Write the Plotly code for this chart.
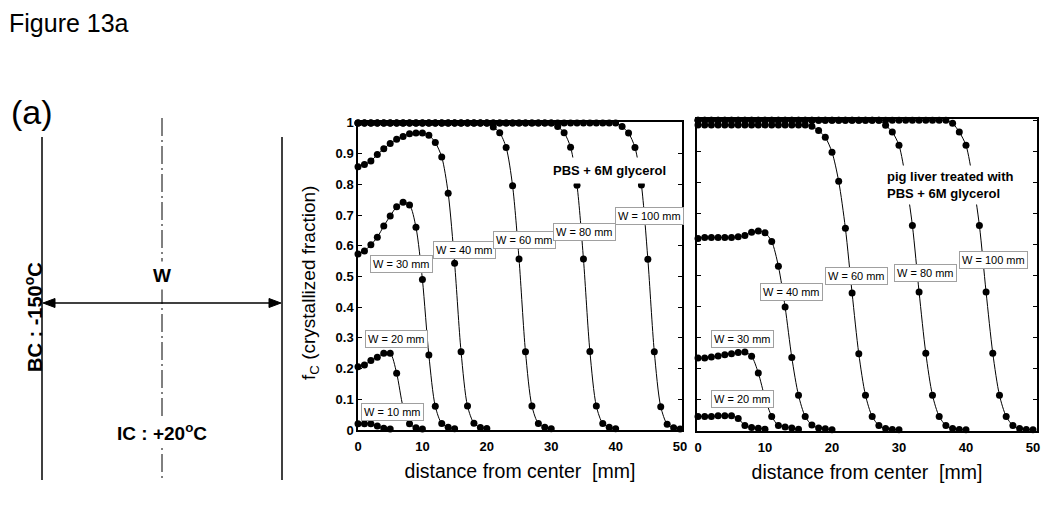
import plotly.graph_objects as go

# distance from the centre of the slab [mm], one node every 1 mm
distance_mm = [0, 1, 2, 3, 4, 5, 6, 7, 8, 9,
               10, 11, 12, 13, 14, 15, 16, 17, 18, 19,
               20, 21, 22, 23, 24, 25, 26, 27, 28, 29,
               30, 31, 32, 33, 34, 35, 36, 37, 38, 39,
               40, 41, 42, 43, 44, 45, 46, 47, 48, 49, 50]

# ---- PBS + 6M glycerol (left panel) ----
pbs_labels = ["W = 10 mm", "W = 20 mm", "W = 30 mm", "W = 40 mm",
              "W = 60 mm", "W = 80 mm", "W = 100 mm"]

fc_pbs_w10 = [0.020, 0.020, 0.020, 0.013, 0.006, 0.003]
fc_pbs_w20 = [0.206, 0.212, 0.226, 0.237, 0.250, 0.250, 0.185, 0.075, 0.020, 0.007,
              0.003]
fc_pbs_w30 = [0.573, 0.583, 0.603, 0.628, 0.664, 0.697, 0.727, 0.742, 0.733, 0.660,
              0.490, 0.244, 0.077, 0.021, 0.009, 0.004]
fc_pbs_w40 = [0.857, 0.865, 0.876, 0.897, 0.916, 0.933, 0.947, 0.956, 0.965, 0.967,
              0.967, 0.960, 0.936, 0.889, 0.771, 0.543, 0.255, 0.078, 0.022, 0.008,
              0.005]
fc_pbs_w60 = [1, 1, 1, 1, 1, 1, 1, 1, 1, 1,
              1, 1, 1, 1, 1, 1, 1, 1, 1, 1,
              1, 0.987, 0.968, 0.920, 0.795, 0.557, 0.255, 0.078, 0.021, 0.009,
              0.004]
fc_pbs_w80 = [1, 1, 1, 1, 1, 1, 1, 1, 1, 1,
              1, 1, 1, 1, 1, 1, 1, 1, 1, 1,
              1, 1, 1, 1, 1, 1, 1, 1, 1, 1,
              1, 0.988, 0.968, 0.921, 0.797, 0.557, 0.256, 0.078, 0.021, 0.009,
              0.004]
fc_pbs_w100 = [1, 1, 1, 1, 1, 1, 1, 1, 1, 1,
               1, 1, 1, 1, 1, 1, 1, 1, 1, 1,
               1, 1, 1, 1, 1, 1, 1, 1, 1, 1,
               1, 1, 1, 1, 1, 1, 1, 1, 1, 1,
               1, 0.988, 0.967, 0.920, 0.798, 0.556, 0.255, 0.076, 0.019, 0.007,
               0.003]

# ---- pig liver treated with PBS + 6M glycerol (right panel) ----
liver_labels = ["W = 20 mm", "W = 30 mm", "W = 40 mm",
                "W = 60 mm", "W = 80 mm", "W = 100 mm"]

fc_liver_w20 = [0.045, 0.045, 0.045, 0.047, 0.047, 0.047, 0.038, 0.016, 0.009, 0.007,
                0.004]
fc_liver_w30 = [0.233, 0.233, 0.237, 0.240, 0.244, 0.247, 0.251, 0.253, 0.239, 0.185,
                0.105, 0.045, 0.016, 0.011, 0.008, 0.004]
fc_liver_w40 = [0.619, 0.622, 0.622, 0.622, 0.622, 0.622, 0.624, 0.628, 0.639, 0.643,
                0.637, 0.609, 0.529, 0.398, 0.235, 0.113, 0.045, 0.017, 0.008, 0.005,
                0.002]
fc_liver_w60 = [0.985, 0.985, 0.985, 0.985, 0.985, 0.985, 0.985, 0.985, 0.985, 0.985,
                0.985, 0.985, 0.985, 0.985, 0.985, 0.985, 0.985, 0.981, 0.967, 0.945,
                0.897, 0.803, 0.652, 0.443, 0.247, 0.113, 0.045, 0.016, 0.006, 0.003,
                0.002]
fc_liver_w80 = [1, 1, 1, 1, 1, 1, 1, 1, 1, 1,
                1, 1, 1, 1, 1, 1, 1, 1, 1, 1,
                1, 1, 1, 1, 1, 1, 1, 1, 0.984, 0.962,
                0.919, 0.810, 0.661, 0.446, 0.249, 0.113, 0.045, 0.016, 0.006, 0.003,
                0.002]
fc_liver_w100 = [1, 1, 1, 1, 1, 1, 1, 1, 1, 1,
                 1, 1, 1, 1, 1, 1, 1, 1, 1, 1,
                 1, 1, 1, 1, 1, 1, 1, 1, 1, 1,
                 1, 1, 1, 1, 1, 1, 1, 1, 0.990, 0.962,
                 0.919, 0.810, 0.661, 0.446, 0.249, 0.113, 0.045, 0.016, 0.006, 0.003,
                 0.002]

pbs_series = [fc_pbs_w10, fc_pbs_w20, fc_pbs_w30, fc_pbs_w40, fc_pbs_w60, fc_pbs_w80, fc_pbs_w100]
liver_series = [fc_liver_w20, fc_liver_w30, fc_liver_w40, fc_liver_w60, fc_liver_w80, fc_liver_w100]

# the page body has an 8px margin, so the figure is 8px smaller than the window
# and screen positions are shifted back by 8px
PAGE_OFF = 8
W_PX, H_PX = 1050 - PAGE_OFF, 516 - PAGE_OFF
FONT = "Arial, Liberation Sans, sans-serif"


def px(x):
    # screen pixel -> paper coordinate
    return (x - PAGE_OFF) / W_PX


def py(y):
    return 1 - (y - PAGE_OFF) / H_PX


fig = go.Figure()

# curves
for vals in pbs_series:
    fig.add_trace(go.Scatter(x=distance_mm[:len(vals)], y=vals, mode='lines+markers',
                             line=dict(color='black', width=1, shape='spline', smoothing=0.8),
                             marker=dict(color='black', size=7),
                             cliponaxis=False, xaxis='x', yaxis='y'))
for vals in liver_series:
    fig.add_trace(go.Scatter(x=distance_mm[:len(vals)], y=vals, mode='lines+markers',
                             line=dict(color='black', width=1, shape='spline', smoothing=0.8),
                             marker=dict(color='black', size=7),
                             cliponaxis=False, xaxis='x2', yaxis='y2'))

ann = []

# label boxes (data coords)
box = dict(showarrow=False, bgcolor='white', bordercolor='#a0a0a0', borderwidth=1,
           borderpad=2, font=dict(family=FONT, size=11, color='black'))
pbs_pos = [(5.3, 0.059), (5.9, 0.296), (6.7, 0.541), (16.5, 0.586),
           (25.9, 0.619), (35.2, 0.645), (45.3, 0.697)]
for lab, (xx, yy) in zip(pbs_labels, pbs_pos):
    ann.append(dict(text=lab, x=xx, y=yy, xref='x', yref='y', **box))
liver_pos = [(6.6, 0.101), (6.7, 0.295), (13.9, 0.446),
             (23.7, 0.498), (34.0, 0.507), (44.1, 0.549)]
for lab, (xx, yy) in zip(liver_labels, liver_pos):
    ann.append(dict(text=lab, x=xx, y=yy, xref='x2', yref='y2', **box))

ann.append(dict(text="<b>PBS + 6M glycerol</b>", x=39.0, y=0.844, xref='x', yref='y',
                showarrow=False, bgcolor='white', borderpad=5,
                font=dict(family=FONT, size=13, color='black')))
ann.append(dict(text="<b>pig liver treated with<br>PBS + 6M glycerol</b>", x=27.6, y=0.79,
                xref='x2', yref='y2', xanchor='left', align='left', showarrow=False,
                bgcolor='white', borderpad=3,
                font=dict(family=FONT, size=13, color='black')))

# y axis title of the left panel
ann.append(dict(text="f<sub>C</sub> (crystallized fraction)", x=px(310), y=py(283),
                xref='paper', yref='paper', xanchor='center', yanchor='middle',
                textangle=-90, showarrow=False,
                font=dict(family=FONT, size=19, color='black')))

# figure captions and the slab sketch
paper_txt = dict(xref='paper', yref='paper', xanchor='center', yanchor='middle', showarrow=False)
ann.append(dict(text="Figure 13a", x=px(8), y=py(8), xref='paper', yref='paper',
                xanchor='left', yanchor='top', borderpad=0, showarrow=False,
                font=dict(family=FONT, size=25, color='black')))
ann.append(dict(text="(a)", x=px(32), y=py(112),
                font=dict(family=FONT, size=34, color='black'), **paper_txt))
ann.append(dict(text="<b>W</b>", x=px(162), y=py(275), bgcolor='white', borderpad=3,
                font=dict(family=FONT, size=19, color='black'), **paper_txt))
ann.append(dict(text="<b>IC : +20<sup>o</sup>C</b>", x=px(162), y=py(432), bgcolor='white',
                font=dict(family=FONT, size=19, color='black'), **paper_txt))
ann.append(dict(text="<b>BC : -150<sup>o</sup>C</b>", x=px(33), y=py(317), textangle=-90,
                font=dict(family=FONT, size=20, color='black'), **paper_txt))

# sketch: walls, centre line and the double arrow W
arrow_y = 303
shapes = [
    dict(type='line', xref='paper', yref='paper', x0=px(42), x1=px(42), y0=py(137), y1=py(480),
         line=dict(color='black', width=1.5)),
    dict(type='line', xref='paper', yref='paper', x0=px(282), x1=px(282), y0=py(137), y1=py(480),
         line=dict(color='black', width=1.5)),
    dict(type='line', xref='paper', yref='paper', x0=px(162), x1=px(162), y0=py(118), y1=py(480),
         line=dict(color='black', width=1, dash='18px,4px,2px,4px')),
    dict(type='line', xref='paper', yref='paper', x0=px(46), x1=px(278),
         y0=py(arrow_y), y1=py(arrow_y), line=dict(color='black', width=1.5)),
]
for tip, back in ((43, 55), (281, 269)):
    shapes.append(dict(
        type='path', xref='paper', yref='paper', fillcolor='black',
        line=dict(color='black', width=1),
        path=(f"M {px(tip)},{py(arrow_y)} L {px(back)},{py(arrow_y - 4.5)} "
              f"L {px(back)},{py(arrow_y + 4.5)} Z")))

tickfont = dict(family=FONT, size=13, color='black', weight='bold')
xcommon = dict(showline=True, linecolor='black', linewidth=1.5, mirror=True, ticks='',
               showgrid=False, zeroline=False, tickfont=tickfont, dtick=10,
               ticklabelstandoff=4, automargin=False,
               title=dict(text="distance from center &nbsp;[mm]", standoff=11,
                          font=dict(family=FONT, size=19.5, color='black')))
ycommon = dict(showline=True, linecolor='black', linewidth=1.5, mirror='ticks', ticks='inside',
               ticklen=4, tickcolor='black', showgrid=False, zeroline=False, dtick=0.1,
               tickfont=tickfont, automargin=False)

fig.update_layout(
    template='none',
    width=W_PX, height=H_PX,
    margin=dict(l=0, r=0, t=0, b=0),
    paper_bgcolor='white', plot_bgcolor='white',
    showlegend=False,
    xaxis=dict(domain=[px(358), px(682)], range=[0, 50.3], anchor='y', **xcommon),
    yaxis=dict(domain=[py(430), py(122)], range=[0, 1.003], anchor='x', **ycommon),
    xaxis2=dict(domain=[px(697), px(1037)], range=[-0.15, 50.6], anchor='y2', **xcommon),
    yaxis2=dict(domain=[py(431), py(119)], range=[-0.002, 1.004], anchor='x2',
                showticklabels=False, **ycommon),
    annotations=ann,
    shapes=shapes,
)

fig.write_html("out.html")
